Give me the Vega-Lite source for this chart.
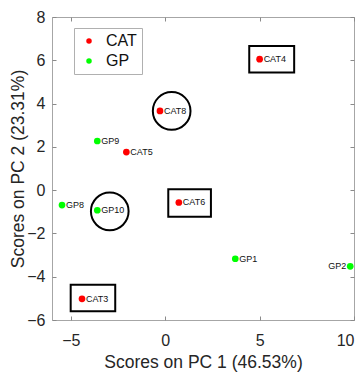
{
  "$schema": "https://vega.github.io/schema/vega-lite/v6.json",
  "width": 302,
  "height": 303,
  "autosize": {"type": "none"},
  "padding": {"left": 52, "top": 17, "right": 10, "bottom": 52},
  "background": "white",
  "config": {
    "font": "Liberation Sans",
    "view": {"stroke": "#a6a6a6", "strokeWidth": 1},
    "axis": {
      "domain": false,
      "grid": false,
      "tickColor": "#8a8a8a",
      "tickSize": -4,
      "labelColor": "#262626",
      "titleColor": "#262626",
      "labelFontSize": 16,
      "titleFontSize": 17.5,
      "titleFontWeight": "normal",
      "labelFont": "Liberation Sans",
      "titleFont": "Liberation Sans"
    },
    "legend": {
      "orient": "none",
      "legendX": 22,
      "legendY": 11,
      "strokeColor": "#b0b0b0",
      "fillColor": "white",
      "padding": 5,
      "symbolSize": 30,
      "symbolType": "circle",
      "symbolStrokeWidth": 0,
      "labelFontSize": 16,
      "labelColor": "#111111",
      "labelFont": "Liberation Sans",
      "rowPadding": 4,
      "symbolOffset": 2,
      "labelOffset": 9
    }
  },
  "datasets": {
    "pts": [
      {"label": "CAT3", "group": "CAT", "pc1": -4.41, "pc2": -5.02},
      {"label": "CAT4", "group": "CAT", "pc1": 5.0, "pc2": 6.05},
      {"label": "CAT5", "group": "CAT", "pc1": -2.06, "pc2": 1.76},
      {"label": "CAT6", "group": "CAT", "pc1": 0.72, "pc2": -0.57},
      {"label": "CAT8", "group": "CAT", "pc1": -0.28, "pc2": 3.66},
      {"label": "GP1", "group": "GP", "pc1": 3.71, "pc2": -3.17},
      {"label": "GP2", "group": "GP", "pc1": 9.8, "pc2": -3.52},
      {"label": "GP8", "group": "GP", "pc1": -5.47, "pc2": -0.69},
      {"label": "GP9", "group": "GP", "pc1": -3.6, "pc2": 2.27},
      {"label": "GP10", "group": "GP", "pc1": -3.6, "pc2": -0.93}
    ],
    "boxes": [
      {"label": "CAT4", "x1": 4.45, "x2": 6.83, "y1": 5.43, "y2": 6.66},
      {"label": "CAT6", "x1": 0.16, "x2": 2.42, "y1": -1.23, "y2": 0.04},
      {"label": "CAT3", "x1": -5.01, "x2": -2.65, "y1": -5.6, "y2": -4.37}
    ],
    "rings": [
      {"label": "CAT8", "cx": 0.34, "cy": 3.66},
      {"label": "GP10", "cx": -2.94, "cy": -0.98}
    ]
  },
  "layer": [
    {
      "mark": {"type": "rule", "strokeDash": [1.5, 2], "color": "#9a9a9a", "strokeWidth": 1},
      "encoding": {
        "x": {"datum": 0, "type": "quantitative",
          "scale": {"domain": [-6, 10], "nice": false, "zero": false},
          "axis": {"orient": "top", "labels": false, "title": null, "values": [-5, 0, 5, 10]}}
      }
    },
    {
      "mark": {"type": "rule", "strokeDash": [1.5, 2], "color": "#9a9a9a", "strokeWidth": 1},
      "encoding": {
        "y": {"datum": 0, "type": "quantitative",
          "scale": {"domain": [-6, 8], "nice": false, "zero": false},
          "axis": {"orient": "right", "labels": false, "title": null, "values": [-6, -4, -2, 0, 2, 4, 6, 8]}}
      }
    },
    {
      "data": {"name": "boxes"},
      "mark": {"type": "rect", "filled": false, "stroke": "black", "strokeWidth": 2},
      "encoding": {
        "x": {"field": "x1", "type": "quantitative", "axis": null},
        "x2": {"field": "x2"},
        "y": {"field": "y1", "type": "quantitative", "axis": null},
        "y2": {"field": "y2"}
      }
    },
    {
      "data": {"name": "rings"},
      "mark": {"type": "point", "shape": "circle", "filled": false, "stroke": "black", "strokeWidth": 2, "size": 1420, "opacity": 1},
      "encoding": {
        "x": {"field": "cx", "type": "quantitative", "axis": null},
        "y": {"field": "cy", "type": "quantitative", "axis": null}
      }
    },
    {
      "data": {"name": "pts"},
      "mark": {"type": "circle", "size": 45, "opacity": 1},
      "encoding": {
        "x": {"field": "pc1", "type": "quantitative",
          "axis": {"orient": "bottom", "title": "Scores on PC 1 (46.53%)", "values": [-5, 0, 5, 10], "labelPadding": 16, "titlePadding": 5}},
        "y": {"field": "pc2", "type": "quantitative",
          "axis": {"orient": "left", "title": "Scores on PC 2 (23.31%)", "values": [-6, -4, -2, 0, 2, 4, 6, 8], "labelPadding": 11, "titlePadding": -1}},
        "color": {"field": "group", "type": "nominal",
          "scale": {"domain": ["CAT", "GP"], "range": ["#ff0000", "#00ff00"]},
          "legend": {"title": null}}
      }
    },
    {
      "data": {"name": "pts"},
      "transform": [{"filter": "datum.label != 'GP2'"}],
      "mark": {"type": "text", "align": "left", "baseline": "middle", "dx": 4, "fontSize": 9, "color": "#111111", "font": "Liberation Sans"},
      "encoding": {
        "x": {"field": "pc1", "type": "quantitative", "axis": null},
        "y": {"field": "pc2", "type": "quantitative", "axis": null},
        "text": {"field": "label"}
      }
    },
    {
      "data": {"name": "pts"},
      "transform": [{"filter": "datum.label == 'GP2'"}],
      "mark": {"type": "text", "align": "right", "baseline": "middle", "dx": -4, "fontSize": 9, "color": "#111111", "font": "Liberation Sans"},
      "encoding": {
        "x": {"field": "pc1", "type": "quantitative", "axis": null},
        "y": {"field": "pc2", "type": "quantitative", "axis": null},
        "text": {"field": "label"}
      }
    }
  ]
}
